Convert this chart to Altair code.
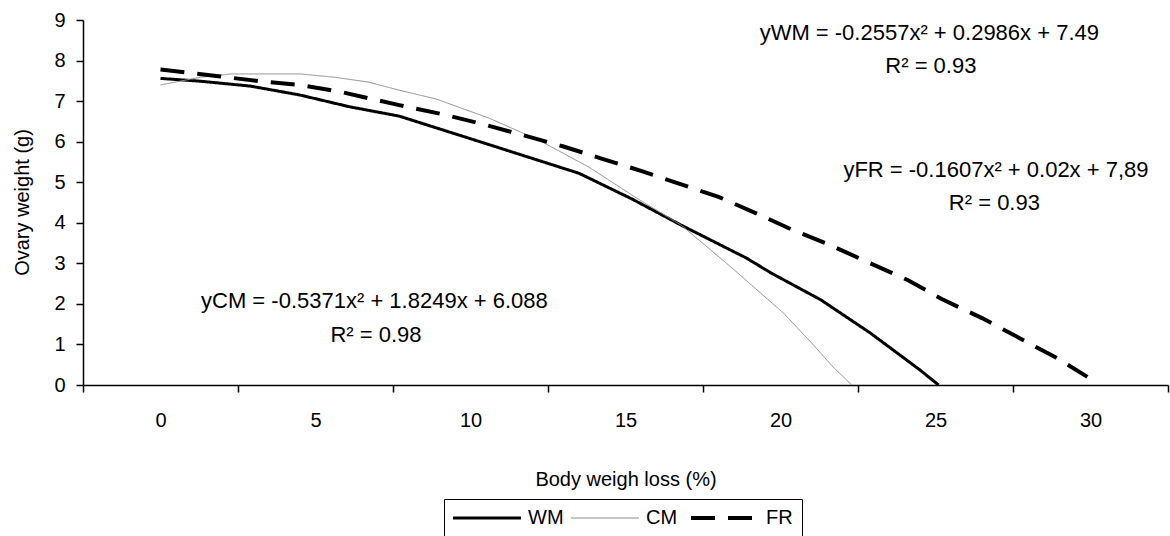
import altair as alt
import pandas as pd

# Fitted ovary weight (g) against body weight loss (%) for three groups
groups = ["WM", "CM", "FR"]

wm_loss = [0.0, 1.3, 2.9, 4.5, 6.1, 7.7, 10.3, 13.5, 15.2, 16.8, 18.9, 19.7, 21.3, 22.9, 24.5, 25.1]
wm_ovary = [7.56, 7.49, 7.37, 7.15, 6.86, 6.63, 6.00, 5.22, 4.59, 3.94, 3.13, 2.76, 2.10, 1.28, 0.37, 0.00]

cm_loss = [0.0, 1.3, 2.3, 4.5, 5.6, 6.7, 7.7, 8.9, 10.6, 12.2, 13.8, 15.4, 16.8, 18.4, 20.1, 21.0, 21.7, 22.3]
cm_ovary = [7.40, 7.59, 7.67, 7.67, 7.59, 7.47, 7.27, 7.05, 6.58, 6.04, 5.38, 4.59, 3.94, 2.91, 1.77, 1.04, 0.44, 0.00]

fr_loss = [0.0, 0.7, 1.8, 3.2, 4.5, 5.8, 7.7, 9.2, 10.5, 11.7, 13.0, 14.2, 15.5, 16.7, 18.0,
           19.2, 20.4, 21.6, 22.9, 24.1, 25.2, 26.5, 27.7, 28.9, 29.9]
fr_ovary = [7.78, 7.72, 7.62, 7.49, 7.40, 7.23, 6.90, 6.66, 6.41, 6.16, 5.88, 5.59, 5.28, 4.97, 4.64,
            4.24, 3.82, 3.45, 3.00, 2.59, 2.12, 1.65, 1.16, 0.67, 0.20]

# Regression equations written on the plot
ann_text = [
    "yWM = -0.2557x² + 0.2986x + 7.49",
    "R² = 0.93",
    "yFR = -0.1607x² + 0.02x + 7,89",
    "R² = 0.93",
    "yCM = -0.5371x² + 1.8249x + 6.088",
    "R² = 0.98",
]
ann_loss = [24.8, 24.85, 26.95, 26.9, 6.9, 6.95]
ann_ovary = [8.51, 7.69, 5.13, 4.32, 1.90, 1.06]

x_tick_values = [-2.5 + 2.5 * i for i in range(15)]
y_tick_values = list(range(10))

FONT = "Liberation Sans"

frames = []
for g, xs, ys in [("WM", wm_loss, wm_ovary), ("CM", cm_loss, cm_ovary), ("FR", fr_loss, fr_ovary)]:
    frames.append(pd.DataFrame({"loss": xs, "ovary": ys, "group": g}))
curves = pd.concat(frames, ignore_index=True)
notes = pd.DataFrame({"loss": ann_loss, "ovary": ann_ovary, "label": ann_text})

# Long horizontal line symbol: a path scaled by sqrt(symbolSize)/2, so the
# entry row stays only as tall as the label text.
legend_cfg = dict(
    title=None, orient="none", legendX=361, legendY=479, direction="horizontal", columns=3,
    symbolType="M-2,0H11.6", symbolSize=100, labelFont=FONT, labelFontSize=20, labelColor="black",
    strokeColor="black", padding=9, columnPadding=5, labelOffset=55,
)

x_enc = alt.X(
    "loss:Q",
    title="Body weigh loss (%)",
    scale=alt.Scale(domain=[-2.5, 32.5], nice=False, zero=False),
    axis=alt.Axis(
        values=x_tick_values,
        labelExpr="datum.value % 5 === 0 ? datum.label : ''",
        tickOpacity={"condition": {"test": "datum.value % 5 === 0", "value": 0}, "value": 1},
        labelOverlap=False, labelFlush=False, labelPadding=18,
        titleY=100, titleBaseline="alphabetic",
    ),
)
y_enc = alt.Y(
    "ovary:Q",
    title="Ovary weight (g)",
    scale=alt.Scale(domain=[0, 9], nice=False),
    axis=alt.Axis(values=y_tick_values, labelPadding=11, titleX=-61, titleY=182,
                  titleAngle=-90, titleAlign="center", titleBaseline="middle"),
)

lines = alt.Chart(curves).mark_line(interpolate="linear").encode(
    x=x_enc,
    y=y_enc,
    color=alt.Color("group:N", scale=alt.Scale(domain=groups, range=["black", "#8c8c8c", "black"]),
                    legend=alt.Legend(**legend_cfg)),
    strokeDash=alt.StrokeDash("group:N", scale=alt.Scale(domain=groups, range=[[1, 0], [1, 0], [24, 13]]),
                              legend=alt.Legend(**legend_cfg)),
    strokeWidth=alt.StrokeWidth("group:N",
                                scale=alt.Scale(type="ordinal", domain=groups, range=[3, 1, 4]),
                                legend=alt.Legend(**legend_cfg)),
    detail="group:N",
)

labels = alt.Chart(notes).mark_text(
    font=FONT, fontSize=22, align="center", baseline="alphabetic", color="black"
).encode(x="loss:Q", y="ovary:Q", text="label:N")

chart = alt.layer(lines, labels).properties(
    width=1085, height=365,
    autosize=alt.AutoSizeParams(type="none"),
    padding={"left": 83, "top": 20, "right": 2, "bottom": 151},
    background="white",
).configure_view(stroke=None).configure_axis(
    grid=False, domainColor="black", domainWidth=1.5, tickColor="black", tickWidth=1.5, tickSize=7,
    labelFont=FONT, labelFontSize=20, labelColor="black",
    titleFont=FONT, titleFontSize=20, titleFontWeight="normal", titleColor="black",
)

chart.save("out.html", embed_options={"renderer": "svg", "actions": False})
